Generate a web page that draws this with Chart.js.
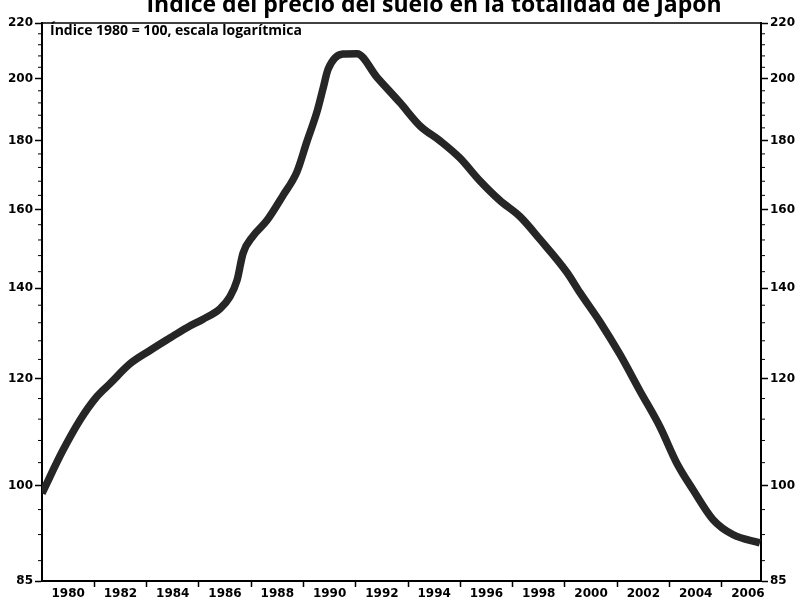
<!DOCTYPE html>
<html>
<head>
<meta charset="utf-8">
<script src="https://cdn.jsdelivr.net/npm/chart.js@4"></script>
<style>
  html, body { margin: 0; padding: 0; background: #fff; }
  #contenedor { width: 802px; height: 611px; }
</style>
</head>
<body>
<div id="contenedor"><canvas id="grafico"></canvas></div>
<script>
const titulo = "Índice del precio del suelo en la totalidad de Japón"
const subtitulo = "Índice 1980 = 100, escala logarítmica"

// valores (año fraccionario -> indice)
const anios = [1980.0, 1980.8, 1981.45, 1982.1, 1982.6, 1983.37, 1984.13, 1984.89, 1985.54, 1986.16,
  1986.81, 1987.19, 1987.46, 1987.69, 1988.07, 1988.6, 1989.22, 1989.75, 1990.13, 1990.52,
  1990.75, 1990.94, 1991.51, 1992.05, 1992.81, 1993.69, 1994.46, 1995.22, 1995.98, 1996.75,
  1997.51, 1998.28, 1999.04, 2000.08, 2000.57, 2001.34, 2002.1, 2002.87, 2003.63, 2004.28,
  2004.9, 2005.66, 2006.42, 2007.46]
const indice = [98.7, 106.2, 111.8, 116.4, 119.0, 123.1, 125.9, 128.6, 130.9, 132.8,
  135.2, 138.0, 141.9, 148.6, 153.0, 157.1, 164.0, 170.7, 179.7, 189.2,
  196.8, 203.3, 208.7, 208.8, 200.6, 192.1, 184.6, 180.0, 174.8, 168.1,
  162.6, 158.2, 152.2, 143.8, 139.0, 132.2, 125.1, 117.5, 110.6, 103.9,
  99.3, 94.4, 92.0, 90.7]

const ticksY = [85, 100, 120, 140, 160, 180, 200, 220]
const ticksYMenores = [88, 92, 96, 104, 108, 112, 116, 124, 128, 132, 136, 144, 148, 152, 156,
  164, 168, 172, 176, 184, 188, 192, 196, 204, 208, 212, 216]
const etiquetasX = [1980, 1982, 1984, 1986, 1988, 1990, 1992, 1994, 1996, 1998, 2000, 2002, 2004, 2006]
const marcasX = [1982, 1984, 1986, 1988, 1990, 1992, 1994, 1996, 1998, 2000, 2002, 2004, 2006]

const fuenteEjes = { family: "'DejaVu Sans', sans-serif", size: 12, weight: 'bold' }

// marcas menores, linea superior del marco y textos
const decoracion = {
  id: 'decoracion',
  afterDraw(chart) {
    const { ctx, chartArea: a, scales } = chart
    ctx.save()
    ctx.strokeStyle = '#000'
    ctx.lineWidth = 1.5
    ctx.beginPath()
    ctx.moveTo(a.left, a.top)
    ctx.lineTo(a.right, a.top)
    ctx.stroke()

    ctx.lineWidth = 1
    ticksYMenores.forEach((v) => {
      const y = scales.y.getPixelForValue(v)
      ctx.beginPath()
      ctx.moveTo(a.left - 4, y)
      ctx.lineTo(a.left, y)
      ctx.moveTo(a.right, y)
      ctx.lineTo(a.right + 4, y)
      ctx.stroke()
    })

    ctx.fillStyle = '#000'
    ctx.font = "bold 23px 'Open Sans', sans-serif"
    ctx.textAlign = 'center'
    ctx.textBaseline = 'alphabetic'
    ctx.fillText(titulo, 434, 12)

    ctx.font = "bold 14px 'Open Sans', sans-serif"
    ctx.textAlign = 'left'
    ctx.textBaseline = 'middle'
    ctx.fillText(subtitulo, a.left + 8, a.top + 8)
    ctx.restore()
  }
}

function ejeY(posicion, ancho) {
  return {
    type: 'logarithmic',
    position: posicion,
    min: 85,
    max: 220,
    afterBuildTicks: (s) => { s.ticks = ticksY.map((v) => ({ value: v })) },
    afterFit: (s) => { s.width = ancho },
    ticks: {
      callback: (v) => String(v),
      font: fuenteEjes,
      color: '#000',
      padding: 2,
      autoSkip: false
    },
    grid: { drawOnChartArea: false, tickLength: 7, tickColor: '#000', tickWidth: 1.5 },
    border: { color: '#000', width: 2 }
  }
}

new Chart(document.getElementById('grafico'), {
  type: 'line',
  data: {
    datasets: [{
      label: 'Índice',
      data: anios.map((a, i) => ({ x: a, y: indice[i] })),
      borderColor: '#262626',
      borderWidth: 7.5,
      pointRadius: 0,
      cubicInterpolationMode: 'monotone',
      yAxisID: 'y'
    }]
  },
  options: {
    responsive: true,
    maintainAspectRatio: false,
    animation: false,
    layout: { padding: { top: 23, left: 0, right: 0, bottom: 0 } },
    plugins: { legend: { display: false }, tooltip: { enabled: false } },
    scales: {
      x: {
        type: 'linear',
        min: 1980,
        max: 2007.5,
        afterBuildTicks: (s) => {
          s.ticks = marcasX.map((v) => ({ value: v }))
            .concat(etiquetasX.map((v) => ({ value: v + 1 })))
            .sort((p, q) => p.value - q.value)
        },
        afterFit: (s) => { s.height = 30 },
        ticks: {
          callback: (v) => (v % 2 === 1 ? String(v - 1) : ''),
          font: fuenteEjes,
          color: '#000',
          autoSkip: false,
          maxRotation: 0,
          padding: 0
        },
        grid: {
          drawOnChartArea: false,
          tickLength: 6,
          tickWidth: 1.5,
          tickColor: (c) => (c.tick && c.tick.value % 2 === 0 ? '#000' : 'rgba(0,0,0,0)')
        },
        border: { color: '#000', width: 2 }
      },
      y: ejeY('left', 42),
      y2: ejeY('right', 41)
    }
  },
  plugins: [decoracion]
})
</script>
</body>
</html>
